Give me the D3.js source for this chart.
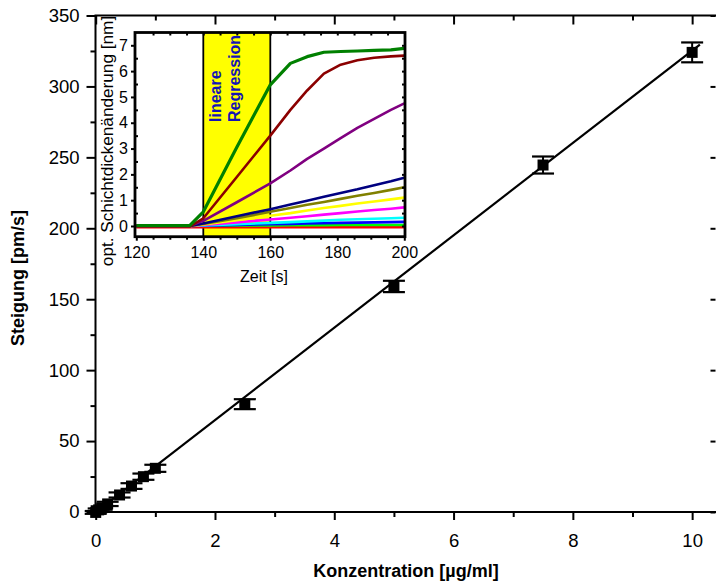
<!DOCTYPE html>
<html><head><meta charset="utf-8">
<script src="https://cdn.jsdelivr.net/npm/d3@7"></script>
<style>
body{margin:0;background:#fff;}
svg{display:block;font-family:"Liberation Sans",Arial,sans-serif;}
</style></head>
<body><svg id="c" width="716" height="585"></svg>
<script>
// ---- main chart data ----
const conc   = [0, 0.05, 0.1, 0.2, 0.4, 0.6, 0.8, 1.0, 2.5, 5, 7.5, 10];
const slope  = [-0.3, 1.5, 2.8, 5.7, 12, 18.3, 24.9, 30.8, 76, 159, 244.6, 324];
const slErr  = [1, 1, 1.2, 1.5, 1.8, 2, 2.2, 2.5, 3.5, 4, 6, 7];
const fitX   = [0, 10.13];
const fitY   = [-0.3, 329.5];
const xTicksMain = [0, 2, 4, 6, 8, 10];
const yTicksMain = [0, 50, 100, 150, 200, 250, 300, 350];

// ---- inset data ----
const zeit = [120, 136, 140, 150, 160, 166, 171, 176, 181, 186, 191, 196, 200];
const sGreen   = [0.02, 0.02, 0.55, 3.05, 5.47, 6.3, 6.56, 6.73, 6.76, 6.78, 6.8, 6.82, 6.88];
const sDarkRed = [-0.02, -0.02, 0.3, 1.9, 3.5, 4.5, 5.25, 5.9, 6.25, 6.42, 6.52, 6.57, 6.6];
const sPurple  = [0.01, 0.01, 0.2, 0.92, 1.65, 2.15, 2.6, 3.0, 3.4, 3.8, 4.15, 4.5, 4.75];
const sNavy    = [0, 0, 0.1, 0.38, 0.65, 0.83, 0.98, 1.13, 1.28, 1.42, 1.58, 1.73, 1.87];
const sOlive   = [0, 0, 0.08, 0.3, 0.55, 0.7, 0.82, 0.93, 1.05, 1.17, 1.28, 1.4, 1.5];
const sYellow  = [0, 0, 0.06, 0.22, 0.4, 0.5, 0.6, 0.7, 0.78, 0.87, 0.95, 1.03, 1.1];
const sMagenta = [0, 0, 0.04, 0.14, 0.25, 0.32, 0.38, 0.44, 0.5, 0.56, 0.62, 0.67, 0.72];
const sCyan    = [0, 0, 0.02, 0.07, 0.12, 0.15, 0.18, 0.21, 0.24, 0.26, 0.28, 0.3, 0.32];
const sBlue    = [0, 0, 0.01, 0.04, 0.07, 0.08, 0.1, 0.11, 0.12, 0.13, 0.14, 0.15, 0.16];
const sLime    = [0.01, 0.01, 0.01, 0.02, 0.02, 0.03, 0.03, 0.03, 0.04, 0.04, 0.04, 0.04, 0.04];
const sRed     = [-0.05, -0.05, -0.05, -0.05, -0.05, -0.05, -0.05, -0.05, -0.05, -0.05, -0.05, -0.05, -0.05];
const seriesNames  = ["red","lime","blue","cyan","magenta","yellow","olive","navy","purple","darkred","green"];
const seriesColors = ["#FF0000","#00FF00","#0000FF","#00FFFF","#FF00FF","#FFFF00","#808000","#000080","#800080","#8B0000","#008000"];
const seriesValues = [sRed, sLime, sBlue, sCyan, sMagenta, sYellow, sOlive, sNavy, sPurple, sDarkRed, sGreen];
const bandRange = [140, 160];
const xTicksInset = [120, 140, 160, 180, 200];
const yTicksInset = [0, 1, 2, 3, 4, 5, 6, 7];

const svg = d3.select("#c");

// ================= MAIN =================
const L = 95.5, R = 716, T = 15.5, B = 512;
const x = d3.scaleLinear().domain([0, 10.4]).range([95.7, 716]);
const y = d3.scaleLinear().domain([0, 350]).range([B, T]);

const g = svg.append("g");
function styleAxis(sel, fs){
  sel.selectAll(".domain").remove();
  sel.selectAll("line").attr("stroke","#000").attr("stroke-width",2);
  sel.selectAll("text").attr("font-size",fs).attr("fill","#000").attr("font-family",'"Liberation Sans",Arial,sans-serif');
}
// bottom
g.append("g").attr("transform",`translate(0,${B})`)
  .call(d3.axisBottom(x).tickValues(xTicksMain).tickSize(8).tickPadding(14).tickFormat(d3.format("d")))
  .call(s=>styleAxis(s,18.5));
g.append("g").attr("transform",`translate(0,${B})`)
  .call(d3.axisBottom(x).tickValues([1,3,5,7,9]).tickSize(5).tickFormat(""))
  .call(s=>styleAxis(s,0));
// top (inward)
g.append("g").attr("transform",`translate(0,${T})`)
  .call(d3.axisTop(x).tickValues(xTicksMain).tickSize(-9).tickFormat(""))
  .call(s=>styleAxis(s,0));
g.append("g").attr("transform",`translate(0,${T})`)
  .call(d3.axisTop(x).tickValues([1,3,5,7,9]).tickSize(-5).tickFormat(""))
  .call(s=>styleAxis(s,0));
// left
g.append("g").attr("transform",`translate(${L},0)`)
  .call(d3.axisLeft(y).tickValues(yTicksMain).tickSize(9).tickPadding(7).tickFormat(d3.format("d")))
  .call(s=>styleAxis(s,18.5));
g.append("g").attr("transform",`translate(${L},0)`)
  .call(d3.axisLeft(y).tickValues(d3.range(25,350,50)).tickSize(5).tickFormat(""))
  .call(s=>styleAxis(s,0));
// right (inward)
g.append("g").attr("transform",`translate(${R-0.5},0)`)
  .call(d3.axisRight(y).tickValues(yTicksMain).tickSize(-5).tickFormat(""))
  .call(s=>styleAxis(s,0));
// frame
g.append("path").attr("d",`M${L},${B}H${R+5}M${L},${B}V${T}H${R+5}`)
  .attr("fill","none").attr("stroke","#000").attr("stroke-width",2);

// fit line
g.append("line").attr("x1",x(fitX[0])).attr("y1",y(fitY[0])).attr("x2",x(fitX[1])).attr("y2",y(fitY[1]))
  .attr("stroke","#000").attr("stroke-width",2.2);
// error bars + markers
const pts = conc.map((c,i)=>({c, v:slope[i], e:slErr[i]}));
const eb = g.append("g");
pts.forEach(p=>{
  const cx = x(p.c), y1 = y(p.v+p.e), y2 = y(p.v-p.e);
  eb.append("line").attr("x1",cx).attr("x2",cx).attr("y1",y1).attr("y2",y2).attr("stroke","#000").attr("stroke-width",2);
  eb.append("line").attr("x1",cx-11).attr("x2",cx+11).attr("y1",y1).attr("y2",y1).attr("stroke","#000").attr("stroke-width",2.2);
  eb.append("line").attr("x1",cx-11).attr("x2",cx+11).attr("y1",y2).attr("y2",y2).attr("stroke","#000").attr("stroke-width",2.2);
  eb.append("rect").attr("x",cx-5.5).attr("y",y(p.v)-5.5).attr("width",11).attr("height",11).attr("fill","#000");
});

// titles
svg.append("text").attr("x",406).attr("y",577).attr("text-anchor","middle")
  .attr("font-size",18).attr("font-weight","bold").text("Konzentration [µg/ml]");
svg.append("text").attr("transform","translate(24,278) rotate(-90)").attr("text-anchor","middle")
  .attr("font-size",18).attr("font-weight","bold").text("Steigung [pm/s]");

// ================= INSET =================
const iL = 135, iR = 405, iT = 32.5, iB = 236.7;
const xi = d3.scaleLinear().domain([120, 200]).range([136.3, 404.3]);
const yi = d3.scaleLinear().domain([0, 7]).range([226, 45.3]);
const ig = svg.append("g");
ig.append("rect").attr("x",iL).attr("y",iT).attr("width",iR-iL).attr("height",iB-iT).attr("fill","#fff");
svg.append("clipPath").attr("id","ic").append("rect").attr("x",iL).attr("y",iT).attr("width",iR-iL).attr("height",iB-iT);
const inner = ig.append("g").attr("clip-path","url(#ic)");
inner.append("rect").attr("x",xi(bandRange[0])).attr("y",iT).attr("width",xi(bandRange[1])-xi(bandRange[0])).attr("height",iB-iT).attr("fill","#FFFF00");
bandRange.forEach(v=>inner.append("line").attr("x1",xi(v)).attr("x2",xi(v)).attr("y1",iT).attr("y2",iB).attr("stroke","#000").attr("stroke-width",1.8));
const line = d3.line().x((d,i)=>xi(zeit[i])).y(d=>yi(d));
seriesValues.forEach((vals,k)=>{
  inner.append("path").attr("d",line(vals)).attr("fill","none").attr("stroke",seriesColors[k])
    .attr("stroke-width", seriesNames[k]==="green"?3.2:2.6).attr("stroke-linejoin","round");
});
// regression label
const lab = inner.append("text").attr("transform",`translate(${xi(145.4)},122) rotate(-90)`)
  .attr("font-size",16).attr("font-weight","bold").attr("fill","#1414b4");
lab.append("tspan").attr("x",0).attr("y",0).text("lineare");
lab.append("tspan").attr("x",0).attr("y",19).text("Regression");

// inset axes
ig.append("g").attr("transform",`translate(0,${iB})`)
  .call(d3.axisBottom(xi).tickValues(xTicksInset).tickSize(4).tickPadding(6).tickFormat(d3.format("d")))
  .call(s=>styleAxis(s,16));
ig.append("g").attr("transform",`translate(0,${iB})`)
  .call(d3.axisBottom(xi).tickValues(d3.range(125,200,5).filter(v=>v%20!==0)).tickSize(3).tickFormat(""))
  .call(s=>styleAxis(s,0));
ig.append("g").attr("transform",`translate(0,${iT})`)
  .call(d3.axisTop(xi).tickValues(d3.range(125,200,5)).tickSize(-3).tickFormat(""))
  .call(s=>styleAxis(s,0));
ig.append("g").attr("transform",`translate(${iL},0)`)
  .call(d3.axisLeft(yi).tickValues(yTicksInset).tickSize(4).tickPadding(3).tickFormat(d3.format("d")))
  .call(s=>styleAxis(s,16));
ig.append("g").attr("transform",`translate(${iL},0)`)
  .call(d3.axisLeft(yi).tickValues([0.5,1.5,2.5,3.5,4.5,5.5,6.5]).tickSize(-3).tickFormat(""))
  .call(s=>styleAxis(s,0));
ig.append("g").attr("transform",`translate(${iR},0)`)
  .call(d3.axisRight(yi).tickValues([0,0.5,1,1.5,2,2.5,3,3.5,4,4.5,5,5.5,6,6.5,7]).tickSize(-3).tickFormat(""))
  .call(s=>styleAxis(s,0));
ig.append("rect").attr("x",iL).attr("y",iT).attr("width",iR-iL).attr("height",iB-iT)
  .attr("fill","none").attr("stroke","#000").attr("stroke-width",2.8);
ig.append("text").attr("x",264).attr("y",282).attr("text-anchor","middle").attr("font-size",16).text("Zeit [s]");
ig.append("text").attr("transform","translate(113,141) rotate(-90)").attr("text-anchor","middle")
  .attr("font-size",17.2).text("opt. Schichtdickenänderung [nm]");
</script></body></html>
